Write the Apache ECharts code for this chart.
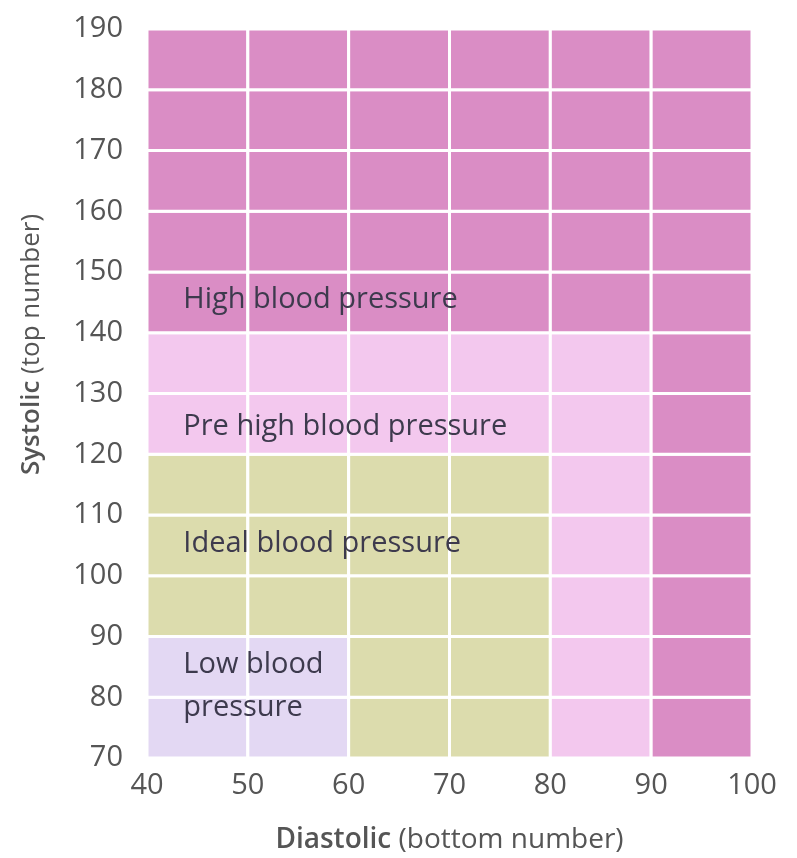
<!DOCTYPE html>
<html><head><meta charset="utf-8">
<script src="https://cdn.jsdelivr.net/npm/echarts@6/dist/echarts.min.js"></script>
<style>html,body{margin:0;padding:0;background:#fff}#c{width:797px;height:858px}</style>
</head><body><div id="c"></div>
<script>
// Diastolic columns (left edges) and systolic rows (bottom edges)
const diastolicStarts = [40, 50, 60, 70, 80, 90];
const systolicStarts = [70, 80, 90, 100, 110, 120, 130, 140, 150, 160, 170, 180];
// zone code per row (bottom to top), per column (left to right)
// L = low, I = ideal, P = pre high, H = high
const zoneRows = [
  ['L','L','I','I','P','H'], // 70
  ['L','L','I','I','P','H'], // 80
  ['I','I','I','I','P','H'], // 90
  ['I','I','I','I','P','H'], // 100
  ['I','I','I','I','P','H'], // 110
  ['P','P','P','P','P','H'], // 120
  ['P','P','P','P','P','H'], // 130
  ['H','H','H','H','H','H'], // 140
  ['H','H','H','H','H','H'], // 150
  ['H','H','H','H','H','H'], // 160
  ['H','H','H','H','H','H'], // 170
  ['H','H','H','H','H','H']  // 180
];
const zoneColors = { L: '#e3d8f3', I: '#dcdcad', P: '#f3c8ee', H: '#da8dc5' };
const zoneLabels = ['High blood pressure', 'Pre high blood pressure', 'Ideal blood pressure', 'Low blood\npressure'];
const labelX = [43.6, 43.6, 43.6, 43.6];
const labelY = [145.4, 124.6, 105.2, 81.8];
const xTicks = [40, 50, 60, 70, 80, 90, 100];
const yTicks = [70, 80, 90, 100, 110, 120, 130, 140, 150, 160, 170, 180, 190];

const cells = [];
systolicStarts.forEach((s, r) => {
  diastolicStarts.forEach((d, c) => {
    cells.push([d, s, zoneRows[r][c]]);
  });
});
const labelData = zoneLabels.map((t, i) => [labelX[i], labelY[i], t]);

const chart = echarts.init(document.getElementById('c'));
const font = '"Open Sans", Lato, sans-serif';
chart.setOption({
  animation: false,
  backgroundColor: '#ffffff',
  grid: { left: 147, right: 45, top: 29, bottom: 100, containLabel: false, outerBoundsMode: 'none' },
  xAxis: {
    type: 'value', min: 40, max: 100, interval: 10,
    axisLine: { show: false }, axisTick: { show: false }, splitLine: { show: false },
    axisLabel: { color: '#555', fontSize: 29, fontFamily: font, margin: 13 },
    name: '{b|Diastolic} (bottom number)', nameLocation: 'middle', nameGap: 68,
    nameTextStyle: { color: '#555', fontSize: 28, fontFamily: font,
      rich: { b: { fontWeight: 600, color: '#555', fontSize: 28, fontFamily: font } } }
  },
  yAxis: {
    type: 'value', min: 70, max: 190, interval: 10,
    axisLine: { show: false }, axisTick: { show: false }, splitLine: { show: false },
    axisLabel: { color: '#555', fontSize: 29, fontFamily: font, margin: 24 },
    name: '{b|Systolic} (top number)', nameLocation: 'middle', nameGap: 102,
    nameTextStyle: { color: '#555', fontSize: 26, fontFamily: font, padding: [0, 0, 0, 98],
      rich: { b: { fontWeight: 600, color: '#555', fontSize: 26, fontFamily: font } } }
  },
  series: [
    {
      type: 'custom',
      data: cells,
      renderItem: function (params, api) {
        const p0 = api.coord([api.value(0), api.value(1)]);
        const p1 = api.coord([api.value(0) + 10, api.value(1) + 10]);
        const code = cells[params.dataIndex][2];
        return {
          type: 'rect',
          shape: { x: p0[0], y: p1[1], width: p1[0] - p0[0], height: p0[1] - p1[1] },
          style: { fill: zoneColors[code], stroke: '#ffffff', lineWidth: 3 }
        };
      },
      z: 1
    },
    {
      type: 'custom',
      data: labelData,
      renderItem: function (params, api) {
        const p = api.coord([api.value(0), api.value(1)]);
        return {
          type: 'text',
          x: p[0], y: p[1],
          style: { text: labelData[params.dataIndex][2], fill: '#3d3a4d', fontSize: 29,
            fontFamily: font, align: 'left', verticalAlign: 'middle', lineHeight: 43 }
        };
      },
      z: 2
    }
  ]
});
</script></body></html>
